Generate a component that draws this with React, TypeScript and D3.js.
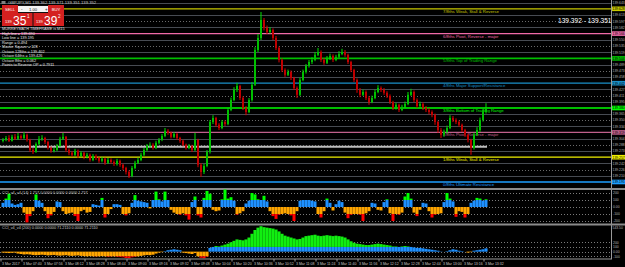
import React from 'react';
import * as d3 from 'd3';

const W = 625;
const H = 267;

// ---- price data (GBPJPY, M1) ----
const firstOpen = 139.298;
const closes = [
  139.300, 139.305, 139.298, 139.308, 139.303, 139.310, 139.305, 139.313, 139.300, 139.275,
  139.270, 139.290, 139.303, 139.305, 139.295, 139.280, 139.273, 139.275, 139.285, 139.303,
  139.308, 139.275, 139.268, 139.263, 139.273, 139.260, 139.268, 139.258, 139.263, 139.250,
  139.260, 139.255, 139.248, 139.253, 139.243, 139.250, 139.245, 139.240, 139.248, 139.238,
  139.230, 139.220, 139.210, 139.230, 139.243, 139.250, 139.263, 139.275, 139.285, 139.288,
  139.280, 139.293, 139.300, 139.310, 139.323, 139.318, 139.308, 139.315, 139.305, 139.298,
  139.288, 139.280, 139.285, 139.275, 139.300, 139.238, 139.220, 139.235, 139.270, 139.345,
  139.355, 139.338, 139.330, 139.345, 139.340, 139.375, 139.400, 139.425, 139.435, 139.405,
  139.380, 139.370, 139.400, 139.438, 139.525, 139.555, 139.600, 139.580, 139.570, 139.575,
  139.555, 139.530, 139.500, 139.475, 139.463, 139.470, 139.455, 139.430, 139.413, 139.450,
  139.470, 139.485, 139.495, 139.500, 139.513, 139.520, 139.500, 139.493, 139.505, 139.510,
  139.500, 139.508, 139.515, 139.520, 139.513, 139.495, 139.475, 139.450, 139.425, 139.413,
  139.420, 139.405, 139.395, 139.405, 139.420, 139.430, 139.425, 139.418, 139.410, 139.395,
  139.380, 139.388, 139.375, 139.383, 139.390, 139.413, 139.420, 139.400, 139.385, 139.390,
  139.380, 139.375, 139.370, 139.363, 139.345, 139.325, 139.313, 139.320, 139.330, 139.355,
  139.350, 139.345, 139.338, 139.325, 139.313, 139.300, 139.280, 139.313, 139.325, 139.350,
  139.370, 139.380,
];
const highs = [
  139.305, 139.310, 139.312, 139.313, 139.315, 139.318, 139.314, 139.320, 139.316, 139.303,
  139.280, 139.294, 139.310, 139.312, 139.308, 139.298, 139.284, 139.281, 139.290, 139.308,
  139.318, 139.310, 139.279, 139.272, 139.278, 139.276, 139.272, 139.270, 139.268, 139.266,
  139.265, 139.264, 139.258, 139.258, 139.256, 139.255, 139.254, 139.249, 139.253, 139.251,
  139.241, 139.233, 139.224, 139.235, 139.248, 139.256, 139.268, 139.280, 139.290, 139.294,
  139.292, 139.298, 139.305, 139.315, 139.330, 139.327, 139.321, 139.320, 139.318, 139.308,
  139.301, 139.291, 139.290, 139.288, 139.318, 139.303, 139.242, 139.240, 139.275, 139.350,
  139.362, 139.358, 139.342, 139.350, 139.349, 139.380, 139.406, 139.432, 139.443, 139.438,
  139.409, 139.385, 139.405, 139.445, 139.532, 139.565, 139.620, 139.605, 139.586, 139.582,
  139.579, 139.560, 139.534, 139.504, 139.479, 139.476, 139.474, 139.458, 139.434, 139.456,
  139.476, 139.490, 139.500, 139.507, 139.520, 139.530, 139.524, 139.505, 139.510, 139.516,
  139.514, 139.513, 139.522, 139.528, 139.525, 139.516, 139.498, 139.478, 139.454, 139.430,
  139.426, 139.424, 139.410, 139.411, 139.426, 139.437, 139.434, 139.430, 139.422, 139.414,
  139.398, 139.393, 139.391, 139.388, 139.396, 139.420, 139.428, 139.424, 139.404, 139.396,
  139.394, 139.385, 139.380, 139.374, 139.366, 139.348, 139.330, 139.326, 139.336, 139.362,
  139.360, 139.354, 139.349, 139.341, 139.328, 139.316, 139.303, 139.318, 139.332, 139.356,
  139.378, 139.392,
];
const lows = [
  139.294, 139.297, 139.295, 139.296, 139.300, 139.300, 139.301, 139.302, 139.296, 139.270,
  139.265, 139.268, 139.287, 139.298, 139.290, 139.276, 139.268, 139.269, 139.272, 139.283,
  139.300, 139.270, 139.262, 139.258, 139.260, 139.255, 139.257, 139.252, 139.254, 139.246,
  139.247, 139.250, 139.243, 139.244, 139.238, 139.240, 139.241, 139.235, 139.236, 139.233,
  139.225, 139.214, 139.205, 139.207, 139.227, 139.240, 139.247, 139.260, 139.272, 139.280,
  139.276, 139.277, 139.289, 139.297, 139.307, 139.313, 139.304, 139.305, 139.300, 139.293,
  139.284, 139.276, 139.277, 139.270, 139.272, 139.232, 139.208, 139.215, 139.232, 139.266,
  139.340, 139.333, 139.325, 139.327, 139.335, 139.337, 139.372, 139.397, 139.420, 139.400,
  139.375, 139.362, 139.367, 139.396, 139.435, 139.520, 139.550, 139.574, 139.565, 139.566,
  139.550, 139.525, 139.494, 139.470, 139.458, 139.460, 139.450, 139.425, 139.405, 139.410,
  139.447, 139.466, 139.481, 139.490, 139.497, 139.510, 139.495, 139.488, 139.490, 139.500,
  139.495, 139.497, 139.505, 139.512, 139.508, 139.490, 139.470, 139.445, 139.418, 139.407,
  139.410, 139.400, 139.388, 139.392, 139.402, 139.417, 139.420, 139.413, 139.405, 139.390,
  139.375, 139.376, 139.370, 139.372, 139.380, 139.387, 139.410, 139.395, 139.380, 139.382,
  139.375, 139.370, 139.364, 139.357, 139.338, 139.318, 139.305, 139.308, 139.316, 139.327,
  139.345, 139.340, 139.333, 139.320, 139.308, 139.294, 139.263, 139.276, 139.310, 139.320,
  139.346, 139.366,
];

// ---- indicator values ----
const cciFast = [
  60, 120, 190, 50, 30, 40, 60, -80, -220, -130,
  -60, 180, 90, 60, -60, -160, -120, -70, 80, 70,
  -60, -100, -90, -80, -130, -200, -60, -40, -80, -70,
  40, 30, 20, 130, -150, -100, -30, 40, 40, 30,
  -100, -120, -90, 60, 170, 90, 80, 70, 60, -20,
  100, 220, 110, 80, 220, 100, -40, -80, -100, -110,
  -90, -120, -180, 70, 150, -120, -150, 130, 230, 190,
  -40, -60, -50, 110, 250, 120, 140, 90, -110, -90,
  -60, 50, 90, 200, 180, 110, 100, 160, 80, -60,
  -130, -170, -110, -100, -90, -100, -120, -200, -60, 90,
  100, 100, 100, 90, 80, -100, -150, -60, 120, 60,
  -50, 40, 90, 70, -80, -160, -110, -100, -100, -110,
  -200, -90, -60, 60, 50, -40, -50, 70, 110, -90,
  -200, -100, -110, -80, 150, 200, 120, -80, -130, -40,
  60, 50, -60, -150, -110, -100, -90, 70, 200, 120,
  80, -140, -60, -70, -150, -100, 60, 90, 130, 120,
  90, 110,
];
const cciSlow = [
  -20, -25, -30, -25, -20,
  -40, -50, -60, -55, -60, -70, -75, -70, -65, -70, -80, -75, -70, -80, -85, -80, -75, -85, -90, -85, -80,
  -90, -95, -100, -95, -100, -105, -100, -95, -100, -110, -105, -100, -110, -115, -120, -135, -140, -120, -110, -100,
  -90, -80, -70, -75, -65,
  -40, -20, -10, 10,
  30, 40, 50, 40, 30,
  -20, -30, -40, -50, -30,
  -100, -130, -140, -110,
  80, 100, 120, 110, 130, 150, 170,
  200, 230, 260, 250, 240, 260, 300,
  380, 460, 510, 540,
  520, 510, 500, 490, 470,
  430, 380, 340, 320, 300, 280, 260,
  270, 300, 330, 340, 350, 360, 340,
  330, 340, 350, 340, 330, 340, 330, 320,
  300, 260, 220, 190, 170, 160,
  150, 140, 140, 150, 160, 170, 160,
  150, 140, 130, 110, 110, 100, 110,
  120, 110, 100, 90, 80, 80,
  70, 60, 50, 40, 30, 20,
  5, 0, 10, 30, 50,
  40, 20, 10, 0, -20,
  -10, 20, 30, 40, 50, 70,
];

// ---- Murrey Math levels (0/8 .. 7/8) ----
const murreyLevels = [139.195, 139.257, 139.319, 139.380, 139.442, 139.504, 139.566, 139.628];
const murreyNames = [
  '0/8ths Ultimate Resistance',
  '1/8ths Weak, Stall & Reverse',
  '2/8ths Pivot, Reverse - major',
  '3/8ths Bottom of Trading Range',
  '4/8ths Major Support/Resistance',
  '5/8ths Top of Trading Range',
  '6/8ths Pivot, Reverse - major',
  '7/8ths Weak, Stall & Reverse',
];
const murreyColors = ['#1e9fff', '#f0f000', '#c0608c', '#00ff00', '#1a8fc8', '#00c000', '#f06aa8', '#c8c800'];
const dayOpen = 139.283;

const fastTicks = [200, 100, 0, -100, -200];
const fastTickLabels = ['200', '100', '0.00', '-100', '-200'];
const slowTicks = [200, 100, 0, -100];
const slowTickLabels = ['200', '100', '0.00', '-100'];

const timeLabels = [
  '3 Mar 2017', '3 Mar 07:40', '3 Mar 07:56', '3 Mar 08:12', '3 Mar 08:28', '3 Mar 08:44',
  '3 Mar 09:00', '3 Mar 09:16', '3 Mar 09:32', '3 Mar 09:48', '3 Mar 10:04', '3 Mar 10:20',
  '3 Mar 10:36', '3 Mar 10:52', '3 Mar 11:08', '3 Mar 11:24', '3 Mar 11:40', '3 Mar 11:56',
  '3 Mar 12:12', '3 Mar 12:28', '3 Mar 12:44', '3 Mar 13:00', '3 Mar 13:16', '3 Mar 13:32',
];

const infoLines = [
  'MURREYMATH TIMEFRAME is M15',
  'High line = 139.690',
  'Low line = 139.195',
  'Range = 0.494',
  'Master Square = 128',
  'Octave 128ths = 139.402',
  'Octave 64ths = 139.426',
  'Octave 8ths = 0.062',
  'Points to Reverse OP = 0.7911',
];

const FONT = 'Liberation Sans, Arial, sans-serif';

export default function App() {
  const n = closes.length;
  const x = d3.scaleLinear().domain([0, n - 1]).range([3, 486]);
  const yMain = d3.scaleLinear().domain([139.1945, 139.65]).range([182.2, 0]);
  const y2 = d3.scaleLinear().domain([-250, 250]).range([224.5, 189.5]);
  const y3 = d3.scaleLinear().domain([-135, 545]).range([258, 226]);
  const opens = closes.map((c, i) => (i === 0 ? firstOpen : closes[i - 1]));

  const step = (murreyLevels[1] - murreyLevels[0]) / 4;
  const grid: { p: number; kind: 'major' | 'solid' | 'dot'; idx: number }[] = [];
  for (let k = 0; k < murreyLevels.length; k++) {
    grid.push({ p: murreyLevels[k], kind: 'major', idx: k });
    for (let q = 1; q < 4; q++) {
      grid.push({ p: murreyLevels[k] + q * step, kind: q === 2 ? 'dot' : 'solid', idx: k });
    }
  }
  const visibleGrid = grid.filter(g => yMain(g.p) > 1.5 && yMain(g.p) < 186);

  const hist = (vals: number[], ys: d3.ScaleLinear<number, number>, w: number, pos: string, pos2: string, neg: string, neg2: string) =>
    vals.map((v, i) => {
      const cx = x(i);
      const out: React.ReactNode[] = [];
      if (v > 0) {
        const a = Math.min(v, 100);
        out.push(<rect key={`a${i}`} x={cx - w / 2} y={ys(a)} width={w} height={ys(0) - ys(a)} fill={pos} />);
        if (v > 100) out.push(<rect key={`b${i}`} x={cx - w / 2} y={ys(v)} width={w} height={ys(100) - ys(v)} fill={pos2} />);
      } else if (v < 0) {
        const a = Math.max(v, -100);
        out.push(<rect key={`a${i}`} x={cx - w / 2} y={ys(0)} width={w} height={ys(a) - ys(0)} fill={neg} />);
        if (v < -100) out.push(<rect key={`b${i}`} x={cx - w / 2} y={ys(-100)} width={w} height={ys(v) - ys(-100)} fill={neg2} />);
      }
      return <g key={i}>{out}</g>;
    });

  const axisFont = 3.4;

  return (
    <svg width={W} height={H} style={{ position: 'fixed', left: 0, top: 0, background: '#000' }} fontFamily={FONT}>
      <rect x={0} y={0} width={W} height={H} fill="#000" />
      <defs>
        <clipPath id="mainClip"><rect x={0} y={0} width={611} height={188} /></clipPath>
      </defs>

      {/* main panel grid */}
      <g clipPath="url(#mainClip)">
        {visibleGrid.filter(g => g.kind !== 'major').map((g, i) => (
          <line key={i} x1={0} x2={611} y1={Math.round(yMain(g.p)) + 0.5} y2={Math.round(yMain(g.p)) + 0.5}
            stroke={g.kind === 'dot' ? '#6a6a6a' : '#474b52'} strokeWidth={1}
            strokeDasharray={g.kind === 'dot' ? '1,2' : undefined} />
        ))}
        {murreyLevels.map((p, k) => (
          <line key={k} x1={0} x2={611} y1={yMain(p)} y2={yMain(p)} stroke={murreyColors[k]} strokeWidth={k === 5 || k === 3 ? 1.6 : 1.3} />
        ))}
        <line x1={0} x2={487} y1={yMain(dayOpen)} y2={yMain(dayOpen)} stroke="#bdbdbd" strokeWidth={2} />
        {murreyLevels.map((p, k) => (
          <text key={k} x={443} y={yMain(p) + 4} fontSize={4.3} fill={murreyColors[k]}>{murreyNames[k]}</text>
        ))}

        {/* candles */}
        {closes.map((c, i) => {
          const o = opens[i];
          const up = c >= o;
          const cx = x(i);
          const top = yMain(Math.max(o, c));
          const bot = yMain(Math.min(o, c));
          return (
            <g key={i}>
              <line x1={cx} x2={cx} y1={yMain(highs[i])} y2={yMain(lows[i])} stroke={up ? '#00e000' : '#e00000'} strokeWidth={1} />
              <rect x={cx - 1} y={top} width={2} height={Math.max(1, bot - top)} fill={up ? '#00c000' : '#c00000'} />
            </g>
          );
        })}
      </g>

      {/* top-left header and one-click panel */}
      <text x={8} y={4} fontSize={4.2} fill="#c0c0c0">GBPJPY,M1  139.362 139.371 139.351 139.352</text>
      <rect x={1.5} y={1} width={4} height={3} fill="#808080" />
      <rect x={2} y={5} width={62} height={21} fill="#111" />
      <rect x={2} y={5} width={16} height={8} fill="#d42020" />
      <text x={10} y={10.5} fontSize={4.2} fill="#fff" textAnchor="middle">SELL</text>
      <rect x={18} y={6} width={30} height={6} fill="#f4f4f4" />
      <text x={21} y={10.5} fontSize={4.5} fill="#333">-</text>
      <text x={33} y={10.5} fontSize={4.2} fill="#222" textAnchor="middle">1.00</text>
      <text x={45} y={10.5} fontSize={4.5} fill="#333">+</text>
      <rect x={48} y={5} width={16} height={8} fill="#d42020" />
      <text x={56} y={10.5} fontSize={4.2} fill="#fff" textAnchor="middle">BUY</text>
      <rect x={2} y={13} width={30.5} height={13} fill="#d42020" />
      <rect x={33.5} y={13} width={30.5} height={13} fill="#d42020" />
      <text x={5} y={23} fontSize={4} fill="#fff">139</text>
      <text x={13} y={25} fontSize={12} fill="#fff">35</text>
      <text x={27} y={18} fontSize={4.5} fill="#fff">1</text>
      <text x={36} y={23} fontSize={4} fill="#fff">139</text>
      <text x={44} y={25} fontSize={12} fill="#fff">39</text>
      <text x={58} y={18} fontSize={4.5} fill="#fff">2</text>
      {infoLines.map((t, i) => (
        <text key={i} x={2} y={30 + i * 4.5} fontSize={3.8} fill="#e8e8e8">{t}</text>
      ))}

      <text x={558} y={23} fontSize={6.6} fill="#ffffff">139.392 - 139.351</text>

      {/* right price axis */}
      <line x1={611.5} x2={611.5} y1={0} y2={259} stroke="#9a9a9a" strokeWidth={1} />
      {visibleGrid.map((g, i) => {
        const yy = yMain(g.p);
        const major = g.kind === 'major';
        return (
          <g key={i}>
            {major && <rect x={612} y={yy - 2.3} width={13} height={4.6} fill={murreyColors[g.idx]} />}
            <text x={612.5} y={yy + 1.3} fontSize={axisFont} fill={major ? '#000' : '#b4b4b4'}>{g.p.toFixed(3)}</text>
          </g>
        );
      })}

      {/* panel separators */}
      <line x1={0} x2={625} y1={189} y2={189} stroke="#8a8a8a" strokeWidth={2} />
      <line x1={0} x2={625} y1={224.5} y2={224.5} stroke="#8a8a8a" strokeWidth={2} />

      {/* fast CCI panel */}
      {fastTicks.map((t, i) => (
        <g key={i}>
          <line x1={0} x2={611} y1={Math.round(y2(t)) + 0.5} y2={Math.round(y2(t)) + 0.5} stroke="#7a7a7a" strokeDasharray="1,2" />
          <text x={613} y={y2(t) + 1.3} fontSize={axisFont} fill="#b4b4b4">{fastTickLabels[i]}</text>
        </g>
      ))}
      {hist(cciFast, y2, 3, '#1e90ff', '#00ff00', '#ffa500', '#ff0000')}
      <text x={2} y={193.5} fontSize={3.8} fill="#c8c8c8">CCI_v4_v4 (14) 1.757 0.0000 0.0000 0.0000 1.757</text>

      {/* slow CCI panel */}
      {slowTicks.map((t, i) => (
        <g key={i}>
          <line x1={0} x2={611} y1={Math.round(y3(t)) + 0.5} y2={Math.round(y3(t)) + 0.5} stroke="#7a7a7a" strokeDasharray="1,2" />
          <text x={613} y={y3(t) + 1.3} fontSize={axisFont} fill="#b4b4b4">{slowTickLabels[i]}</text>
        </g>
      ))}
      <text x={612.5} y={229} fontSize={axisFont} fill="#b4b4b4">543.50</text>
      {hist(cciSlow, y3, 3.1, '#1e90ff', '#11ee11', '#ffa500', '#ff0000')}
      <text x={2} y={229} fontSize={3.8} fill="#c8c8c8">CCI_v4_v4 (200) 0.0000 0.0000 71.2110 0.0000 71.2110</text>

      {/* time axis */}
      <line x1={0} x2={612} y1={259} y2={259} stroke="#9a9a9a" strokeWidth={1} />
      {timeLabels.map((t, i) => {
        const tx = x(i * 7) - 2;
        return (
          <g key={i}>
            <line x1={tx} x2={tx} y1={259} y2={261.5} stroke="#9a9a9a" />
            <text x={tx + 1} y={264.5} fontSize={3.5} fill="#c8c8c8">{t}</text>
          </g>
        );
      })}
    </svg>
  );
}
